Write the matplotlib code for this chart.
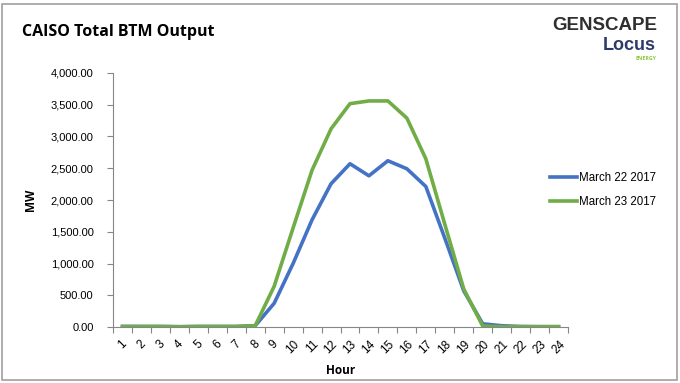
import matplotlib
matplotlib.use("Agg")
import matplotlib.pyplot as plt
from matplotlib.patches import Rectangle
from matplotlib.ticker import FuncFormatter, FixedLocator

hours = list(range(1, 25))
hour_labels = [str(h) for h in hours]
march22 = [10, 8, 8, 5, 8, 8, 8, 20, 373, 1000, 1688, 2255, 2571, 2381, 2618, 2492,
           2213, 1400, 570, 50, 20, 8, 5, 5]
march23 = [5, 8, 8, 3, 8, 8, 8, 20, 640, 1560, 2470, 3120, 3517, 3560, 3560, 3290,
           2650, 1620, 600, 15, 5, 5, 5, 5]
series_names = ["March 22 2017", "March 23 2017"]
colors = ["#4472C4", "#70AD47"]
yticks = [0, 500, 1000, 1500, 2000, 2500, 3000, 3500, 4000]

plt.rcParams['font.family'] = ['Open Sans', 'DejaVu Sans']
W, H = 680, 383
fig = plt.figure(figsize=(W / 100, H / 100), dpi=100)
ax = fig.add_axes([113 / W, 1 - 327 / H, (568 - 113) / W, (327 - 73) / H])

for vals, name, c in zip([march22, march23], series_names, colors):
    ax.plot(hours, vals, color=c, lw=2.6, label=name, solid_joinstyle='round')

ax.set_xlim(0.5, 24.5)
ax.set_ylim(0, 4000)
ax.set_yticks(yticks)
ax.yaxis.set_major_formatter(FuncFormatter(lambda v, p: f"{v:,.2f}"))
ax.xaxis.set_major_locator(FixedLocator([h - 0.5 for h in hours] + [24.5]))
ax.xaxis.set_major_formatter(FuncFormatter(lambda v, p: ""))
ax.xaxis.set_minor_locator(FixedLocator(hours))
ax.set_xticklabels(hour_labels, minor=True, rotation=45, ha='center', fontsize=8.5,
                   family=['Liberation Sans'])
ax.tick_params(axis='x', which='minor', length=0, pad=8)
ax.tick_params(axis='x', which='major', length=4, color='#868686', width=0.8)
ax.tick_params(axis='y', length=4, color='#868686', width=0.8, labelsize=8, pad=10)
for lab in ax.get_yticklabels():
    lab.set_family(['Liberation Sans'])
for s in ['top', 'right']:
    ax.spines[s].set_visible(False)
for s in ['left', 'bottom']:
    ax.spines[s].set_color('#868686')
    ax.spines[s].set_linewidth(0.8)

ax.set_xlabel("Hour", fontsize=8.5, fontweight='bold', labelpad=6)
ax.set_ylabel("MW", fontsize=8.5, fontweight='bold', labelpad=10)

leg = ax.legend(loc='center left', bbox_to_anchor=((550 - 113) / 455, 0.539), frameon=False,
                fontsize=8.3, handlelength=2.3, labelspacing=1.1, handletextpad=0.2,
                borderaxespad=0, borderpad=0)
for t in leg.get_texts():
    t.set_family(['Liberation Sans'])

fig.text(22 / W, 1 - 32 / H, "CAISO Total BTM Output", fontsize=11.5, fontweight='bold',
         va='center', ha='left', family=['Open Sans'])
# logo text
fig.text(657 / W, 1 - 26 / H, "GENSCAPE", fontsize=13.5, fontweight='bold', color='#2F2F2F',
         ha='right', va='center', family=['Liberation Sans'])
fig.text(656 / W, 1 - 46 / H, "Locus", fontsize=13, fontweight='bold', color='#2B3A6B',
         ha='right', va='center', family=['Liberation Sans Narrow', 'Liberation Sans'])
fig.text(656 / W, 1 - 58 / H, "ENERGY", fontsize=3.8, fontweight='bold', color='#8DC63F',
         ha='right', va='center')

fig.patches.append(Rectangle((2 / W, 3 / H), (W - 5) / W, (H - 7) / H, transform=fig.transFigure,
                             fill=False, edgecolor='#A0A0A0', lw=1.2))
fig.savefig("out.png", dpi=100, facecolor='white')
